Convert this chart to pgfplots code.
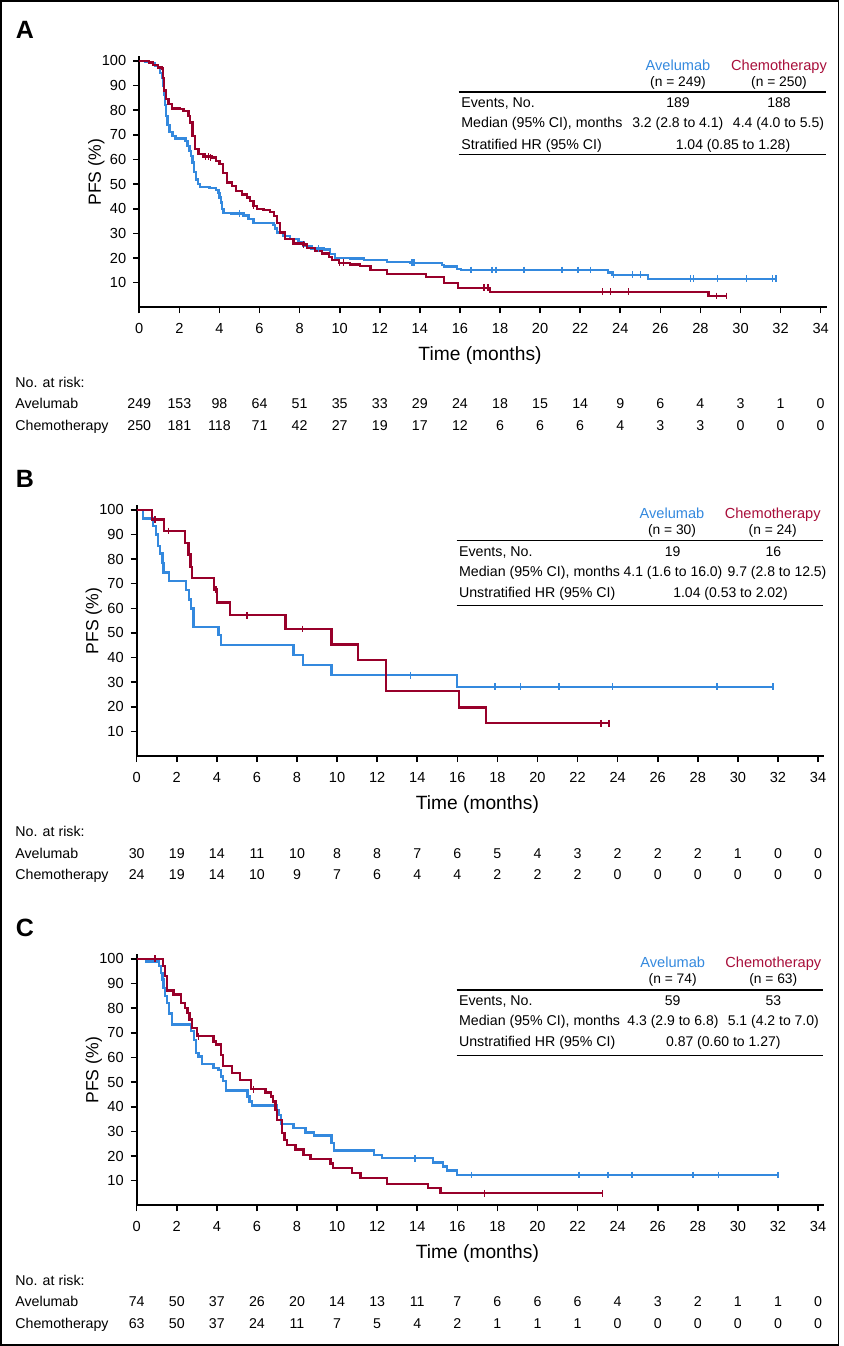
\documentclass[border=0pt]{standalone}
\usepackage{fontspec}
\setmainfont{Liberation Sans}
\usepackage{pgfplots}
\pgfplotsset{compat=1.18}
\definecolor{AveBlue}{RGB}{52,137,222}
\definecolor{ChemoRed}{RGB}{152,0,42}
\definecolor{ChemoText}{RGB}{168,14,58}
\newcommand{\fs}[1]{\fontsize{#1}{#1}\selectfont}

% 1 px of the reference = 0.5pt
\pgfplotsset{
  km/.style={
    x=10.02pt, y=1.2325pt,
    xmin=0, xmax=34.3, ymin=0, ymax=102,
    anchor=origin,
    axis x line=bottom, axis y line=left,
    axis line style={-, line width=0.9pt},
    every outer x axis line/.append style={-},
    every outer y axis line/.append style={-},
    tick align=outside, major tick length=3pt,
    tick style={line width=0.8pt, black},
    xtick={0,2,...,34}, ytick={10,20,...,100},
    tick label style={font=\fs{7.3}},
    x tick label style={yshift=-1.4pt},
    /pgf/number format/assume math mode=true,
    clip=false,
  },
  ave/.style={const plot, AveBlue, line width=1.15pt},
  chemo/.style={const plot, ChemoRed, line width=1.15pt},
  avecens/.style={only marks, mark=|, mark size=1.7pt, AveBlue, mark options={line width=0.7pt}},
  chemocens/.style={only marks, mark=|, mark size=1.7pt, ChemoRed, mark options={line width=0.7pt}},
}

\newcommand{\riskrow}[3]{%
  \foreach \v [count=\i from 0] in {#3} \node[anchor=base] at ({#1+40.08*\i},#2) {\v};}

\begin{document}
\begin{tikzpicture}
\begin{scope}[x=0.5pt, y=-0.5pt]
  \useasboundingbox (0,0) rectangle (843,1346);
  \draw[line width=0.75pt] (0.8,0.8) rectangle (838.3,1345);
\end{scope}

% ---------------- A ----------------
\begin{axis}[km, at={(69.65pt,-153.65pt)}]
\addplot[ave] coordinates {(0,100) (0.3,99.5) (0.55,99) (0.8,98) (0.95,97) (1.05,95) (1.12,93) (1.17,90) (1.22,86) (1.27,82) (1.33,77.5) (1.4,74) (1.5,71) (1.65,69.5) (1.8,68.5) (2.3,67.5) (2.4,65.5) (2.5,63.5) (2.58,61.4) (2.65,58.7) (2.72,55) (2.82,51.9) (2.92,50) (3.03,48.8) (3.5,48.5) (3.83,47.5) (3.95,46.5) (4.0,44.5) (4.07,42.5) (4.13,40) (4.2,38.4) (4.6,38.1) (5.2,37.2) (5.45,35.7) (5.7,34.1) (6.7,33.5) (6.78,32) (6.87,30.3) (7.2,28.9) (7.53,27.6) (7.95,26.5) (8.2,24.9) (8.6,23.8) (9.2,23.4) (9.53,21.5) (9.78,20.1) (10.5,19.8) (11.2,19.3) (12.37,18.4) (13.5,18.1) (15.09,17.2) (15.2,16.5) (15.84,15.6) (16.05,15.1) (23.4,14.1) (23.6,13.2) (25.4,11.6) (31.8,11.6)};
\addplot[chemo] coordinates {(0,100) (0.5,99.3) (0.7,98.3) (0.95,97.3) (1.12,96.9) (1.2,93) (1.25,88) (1.33,84.4) (1.45,82.4) (1.62,80.7) (2.03,80.4) (2.2,79.7) (2.45,77.7) (2.53,75) (2.65,69.6) (2.78,64.2) (2.95,62.2) (3.2,61.2) (3.62,60.8) (3.83,59.4) (4.0,58.1) (4.17,54.6) (4.37,50.6) (4.62,49.3) (4.83,47.2) (5.12,45.8) (5.37,44.5) (5.53,43.1) (5.7,41.1) (5.87,40) (6.2,39.5) (6.53,38.7) (6.73,37.1) (6.87,34.3) (7.03,30.3) (7.28,27.6) (7.7,25.9) (8.2,25.5) (8.37,24.1) (8.78,22.8) (9.12,21.8) (9.45,20.5) (9.62,19.2) (9.95,18.1) (10.53,17.4) (11.03,16.7) (11.53,15.1) (12.37,13.4) (14.3,12.4) (15.2,10.0) (15.9,7.9) (17.5,6.3) (28.4,4.6) (29.3,4.6)};
\addplot[avecens] coordinates {(5.0,38.1) (8.95,23.8) (13.6,18.1) (13.7,18.1) (16.55,15.1) (17.6,15.1) (17.8,15.1) (19.2,15.1) (21.1,15.1) (21.9,15.1) (22.5,15.1) (23.65,13.2) (24.6,13.2) (25.0,13.2) (27.5,11.6) (27.65,11.6) (28.86,11.6) (30.3,11.6) (31.6,11.6) (31.77,11.6)};
\addplot[chemocens] coordinates {(3.3,61.2) (3.45,61.2) (3.55,60.8) (5.7,41.1) (8.2,25.5) (10.0,18.1) (10.2,18.1) (17.2,7.9) (17.4,7.9) (23.1,6.3) (23.5,6.3) (24.4,6.3) (28.8,4.6) (29.3,4.6)};
\end{axis}

% ---------------- B ----------------
\begin{axis}[km, at={(68.35pt,-378.1pt)}]
\addplot[ave] coordinates {(0,100) (0.33,96.4) (0.83,93.3) (0.97,90) (1.08,85.2) (1.17,82.2) (1.28,78.5) (1.33,74.5) (1.62,71.1) (2.47,67.3) (2.6,63.6) (2.72,59.9) (2.83,52.5) (4.08,49.1) (4.2,45.1) (7.83,41) (8.3,37) (9.72,32.9) (16.0,28.2) (31.75,28.2)};
\addplot[chemo] coordinates {(0,100) (0.75,96) (1.37,91.4) (2.42,86.5) (2.58,81.8) (2.68,76.8) (2.75,72.3) (3.87,67.6) (4.0,62.3) (4.67,57.2) (7.43,51.6) (9.72,45.3) (11.05,39) (12.43,26.5) (16.08,19.8) (17.42,13.4) (23.57,13.4)};
\addplot[avecens] coordinates {(13.67,32.9) (17.87,28.2) (19.15,28.2) (21.08,28.2) (23.74,28.2) (28.96,28.2) (31.75,28.2)};
\addplot[chemocens] coordinates {(0.92,96) (1.58,91.4) (3.95,67.6) (5.5,57.2) (8.27,51.6) (23.17,13.4) (23.57,13.4)};
\end{axis}

% ---------------- C ----------------
\begin{axis}[km, at={(68.35pt,-602.65pt)}]
\addplot[ave] coordinates {(0,100) (0.47,98.9) (1.13,97) (1.22,94.3) (1.28,91.6) (1.33,88.2) (1.42,84.8) (1.5,82.1) (1.62,77.8) (1.77,73.3) (2.7,70.6) (2.87,67.2) (2.95,61.8) (3.08,60.4) (3.25,57.4) (3.83,55.6) (4.08,54.9) (4.2,52.3) (4.3,50.3) (4.45,46.6) (5.53,44.2) (5.63,42.1) (5.75,40.5) (6.97,38.7) (7.08,36.7) (7.2,32.9) (7.83,31.3) (8.42,29.6) (8.83,28.3) (9.72,25.2) (9.83,22.2) (11.83,20.4) (12.25,19.1) (14.8,17.4) (15.3,15.7) (15.5,14.1) (16.0,12.3) (32.0,12.3)};
\addplot[chemo] coordinates {(0,100) (1.3,97) (1.4,93) (1.5,87.2) (1.83,85.5) (2.2,82.1) (2.42,80.1) (2.53,78) (2.63,75.4) (2.75,72) (3.0,68.6) (3.83,66.5) (3.97,65.2) (4.2,61.1) (4.3,56.4) (4.75,53.6) (5.17,50.9) (5.7,47.1) (6.42,45.8) (6.7,44.2) (6.8,42.1) (6.92,38.7) (7.0,34.7) (7.25,29.3) (7.37,26.6) (7.5,24.5) (7.92,22.7) (8.33,20.4) (8.67,18.7) (9.67,17) (9.8,15) (10.75,13) (11.17,11) (12.5,8.7) (14.55,6.9) (15.16,4.9) (23.24,4.9)};
\addplot[avecens] coordinates {(13.88,19.1) (16.7,12.3) (22.08,12.3) (23.52,12.3) (24.72,12.3) (27.76,12.3) (29.04,12.3) (32.0,12.3)};
\addplot[chemocens] coordinates {(0.92,100) (3.08,68.6) (5.83,47.1) (17.37,4.9) (23.24,4.9)};
\end{axis}

\begin{scope}[x=0.5pt, y=-0.5pt, every node/.style={inner sep=0pt}]
  % panel letters
  \node[anchor=base, font=\fs{12.5}\bfseries] at (25,38) {A};
  \node[anchor=base, font=\fs{12.5}\bfseries] at (25,487) {B};
  \node[anchor=base, font=\fs{12.5}\bfseries] at (25,936) {C};
  % axis titles
  \foreach \ox/\oy in {139.3/307.3, 136.7/756.2, 136.7/1205.3} {
    \node[font=\fs{9.6}] at (\ox+340.7,\oy+48.3) {Time (months)};
    \node[font=\fs{8.8}, rotate=90] at (\ox-43,\oy-135) {PFS (\%)};
  }
  % risk tables
  \begin{scope}[every node/.append style={font=\fs{7.1}}]
    \node[anchor=base west] at (15,387.7) {No. at risk:};
    \node[anchor=base west] at (15,408.7) {Avelumab};
    \node[anchor=base west] at (15,430.7) {Chemotherapy};
    \riskrow{139.3}{408.7}{249,153,98,64,51,35,33,29,24,18,15,14,9,6,4,3,1,0}
    \riskrow{139.3}{430.7}{250,181,118,71,42,27,19,17,12,6,6,6,4,3,3,0,0,0}
    \node[anchor=base west] at (15,836.4) {No. at risk:};
    \node[anchor=base west] at (15,858) {Avelumab};
    \node[anchor=base west] at (15,879.4) {Chemotherapy};
    \riskrow{136.7}{858}{30,19,14,11,10,8,8,7,6,5,4,3,2,2,2,1,0,0}
    \riskrow{136.7}{879.4}{24,19,14,10,9,7,6,4,4,2,2,2,0,0,0,0,0,0}
    \node[anchor=base west] at (15,1285.7) {No. at risk:};
    \node[anchor=base west] at (15,1306.7) {Avelumab};
    \node[anchor=base west] at (15,1328.4) {Chemotherapy};
    \riskrow{136.7}{1306.7}{74,50,37,26,20,14,13,11,7,6,6,6,4,3,2,1,1,0}
    \riskrow{136.7}{1328.4}{63,50,37,24,11,7,5,4,2,1,1,1,0,0,0,0,0,0}
  \end{scope}
  % summary tables
  \begin{scope}[every node/.append style={font=\fs{7}, anchor=base}]
    % A
    \node[font=\fs{7.3}, text=AveBlue] at (678,70.2) {Avelumab};
    \node[font=\fs{7.3}, text=ChemoText] at (779,70.2) {Chemotherapy};
    \node[font=\fs{6.9}] at (678,86.5) {(n = 249)};
    \node[font=\fs{6.9}] at (779,86.5) {(n = 250)};
    \draw[line width=0.6pt] (458.7,92) -- (826,92);
    \node[anchor=base west, font=\fs{7.1}] at (461,107.3) {Events, No.};
    \node at (678,107.3) {189};
    \node at (779,107.3) {188};
    \node[anchor=base west, font=\fs{7.1}] at (461,127.7) {Median (95\% CI), months};
    \node at (677.8,127.7) {3.2 (2.8 to 4.1)};
    \node at (778.5,127.7) {4.4 (4.0 to 5.5)};
    \node[anchor=base west, font=\fs{7.1}] at (461,149) {Stratified HR (95\% CI)};
    \node at (733,149) {1.04 (0.85 to 1.28)};
    \draw[line width=0.6pt] (458.7,154.3) -- (826,154.3);
    % B
    \node[font=\fs{7.3}, text=AveBlue] at (672,518.5) {Avelumab};
    \node[font=\fs{7.3}, text=ChemoText] at (772.7,518.5) {Chemotherapy};
    \node[font=\fs{6.9}] at (672,534.8) {(n = 30)};
    \node[font=\fs{6.9}] at (772.7,534.8) {(n = 24)};
    \draw[line width=0.6pt] (456.7,540.7) -- (823.3,540.7);
    \node[anchor=base west, font=\fs{7.1}] at (458.7,556) {Events, No.};
    \node at (672.7,556) {19};
    \node at (773.3,556) {16};
    \node[anchor=base west, font=\fs{7.1}] at (458.7,576.7) {Median (95\% CI), months};
    \node at (673,576.7) {4.1 (1.6 to 16.0)};
    \node at (777,576.7) {9.7 (2.8 to 12.5)};
    \node[anchor=base west, font=\fs{7.1}] at (458.7,597.7) {Unstratified HR (95\% CI)};
    \node at (730.5,597.7) {1.04 (0.53 to 2.02)};
    \draw[line width=0.6pt] (456.7,605.3) -- (823.3,605.3);
    % C
    \node[font=\fs{7.3}, text=AveBlue] at (672.7,967.9) {Avelumab};
    \node[font=\fs{7.3}, text=ChemoText] at (773.3,967.9) {Chemotherapy};
    \node[font=\fs{6.9}] at (672.7,983.8) {(n = 74)};
    \node[font=\fs{6.9}] at (773.3,983.8) {(n = 63)};
    \draw[line width=0.6pt] (456.7,990) -- (823.3,990);
    \node[anchor=base west, font=\fs{7.1}] at (458.7,1005.7) {Events, No.};
    \node at (672.7,1005.7) {59};
    \node at (773.3,1005.7) {53};
    \node[anchor=base west, font=\fs{7.1}] at (458.7,1025.7) {Median (95\% CI), months};
    \node at (673,1025.7) {4.3 (2.9 to 6.8)};
    \node at (773.3,1025.7) {5.1 (4.2 to 7.0)};
    \node[anchor=base west, font=\fs{7.1}] at (458.7,1046.7) {Unstratified HR (95\% CI)};
    \node at (723.3,1046.7) {0.87 (0.60 to 1.27)};
    \draw[line width=0.6pt] (456.7,1055.3) -- (823.3,1055.3);
  \end{scope}
\end{scope}
\end{tikzpicture}
\end{document}
